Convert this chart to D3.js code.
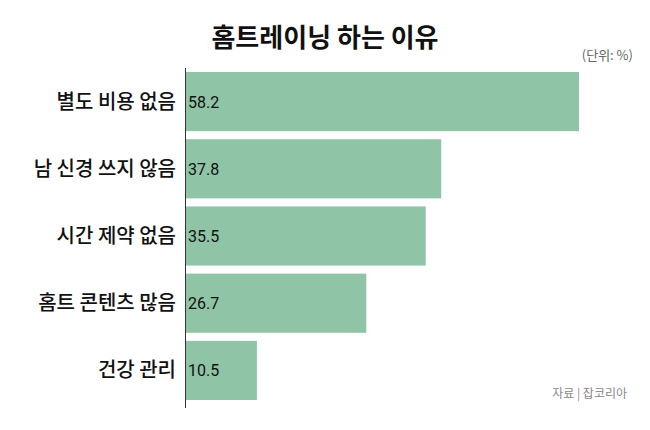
<!DOCTYPE html>
<html><head><meta charset="utf-8">
<script src="https://cdn.jsdelivr.net/npm/d3@7"></script>
<style>body{margin:0;background:#fff}</style></head>
<body><svg id="c" width="650" height="430"></svg>
<script>
const categories=["별도 비용 없음","남 신경 쓰지 않음","시간 제약 없음","홈트 콘텐츠 많음","건강 관리"];
const values=[58.2,37.8,35.5,26.7,10.5];
const svg=d3.select("#c");
const font="'Noto Sans CJK KR','Noto Sans',sans-serif";
const x=d3.scaleLinear().domain([0,58.2]).range([186,579]);
const y=d3.scaleBand().domain(categories).range([68,404]).paddingInner(0.12).paddingOuter(0.06);
svg.append("text").attr("x",325).attr("y",47).attr("text-anchor","middle").attr("font-family",font).attr("font-weight",700).attr("font-size",26).attr("fill","#111").text("홈트레이닝 하는 이유");
svg.append("text").attr("x",633).attr("y",60).attr("text-anchor","end").attr("font-family",font).attr("font-size",13).attr("fill","#666").text("(단위: %)");
svg.selectAll("rect").data(values).join("rect").attr("x",x(0)).attr("y",(d,i)=>y(categories[i])).attr("width",d=>x(d)-x(0)).attr("height",y.bandwidth()).attr("fill","#8fc4a6");
svg.append("line").attr("x1",185.5).attr("x2",185.5).attr("y1",68).attr("y2",408).attr("stroke","#333").attr("stroke-width",1);
svg.selectAll(".v").data(values).join("text").attr("x",188).attr("y",(d,i)=>y(categories[i])+y.bandwidth()/2+6).attr("font-family","Roboto,sans-serif").attr("font-size",16).attr("fill","#111").text(d=>d.toFixed(1));
svg.selectAll(".l").data(categories).join("text").attr("x",176).attr("y",d=>y(d)+y.bandwidth()/2+7).attr("text-anchor","end").attr("font-family",font).attr("font-size",20).attr("font-weight",500).attr("fill","#111").text(d=>d);
svg.append("text").attr("x",627).attr("y",398).attr("text-anchor","end").attr("font-family",font).attr("font-size",12).attr("fill","#888").text("자료 | 잡코리아");
</script></body></html>
